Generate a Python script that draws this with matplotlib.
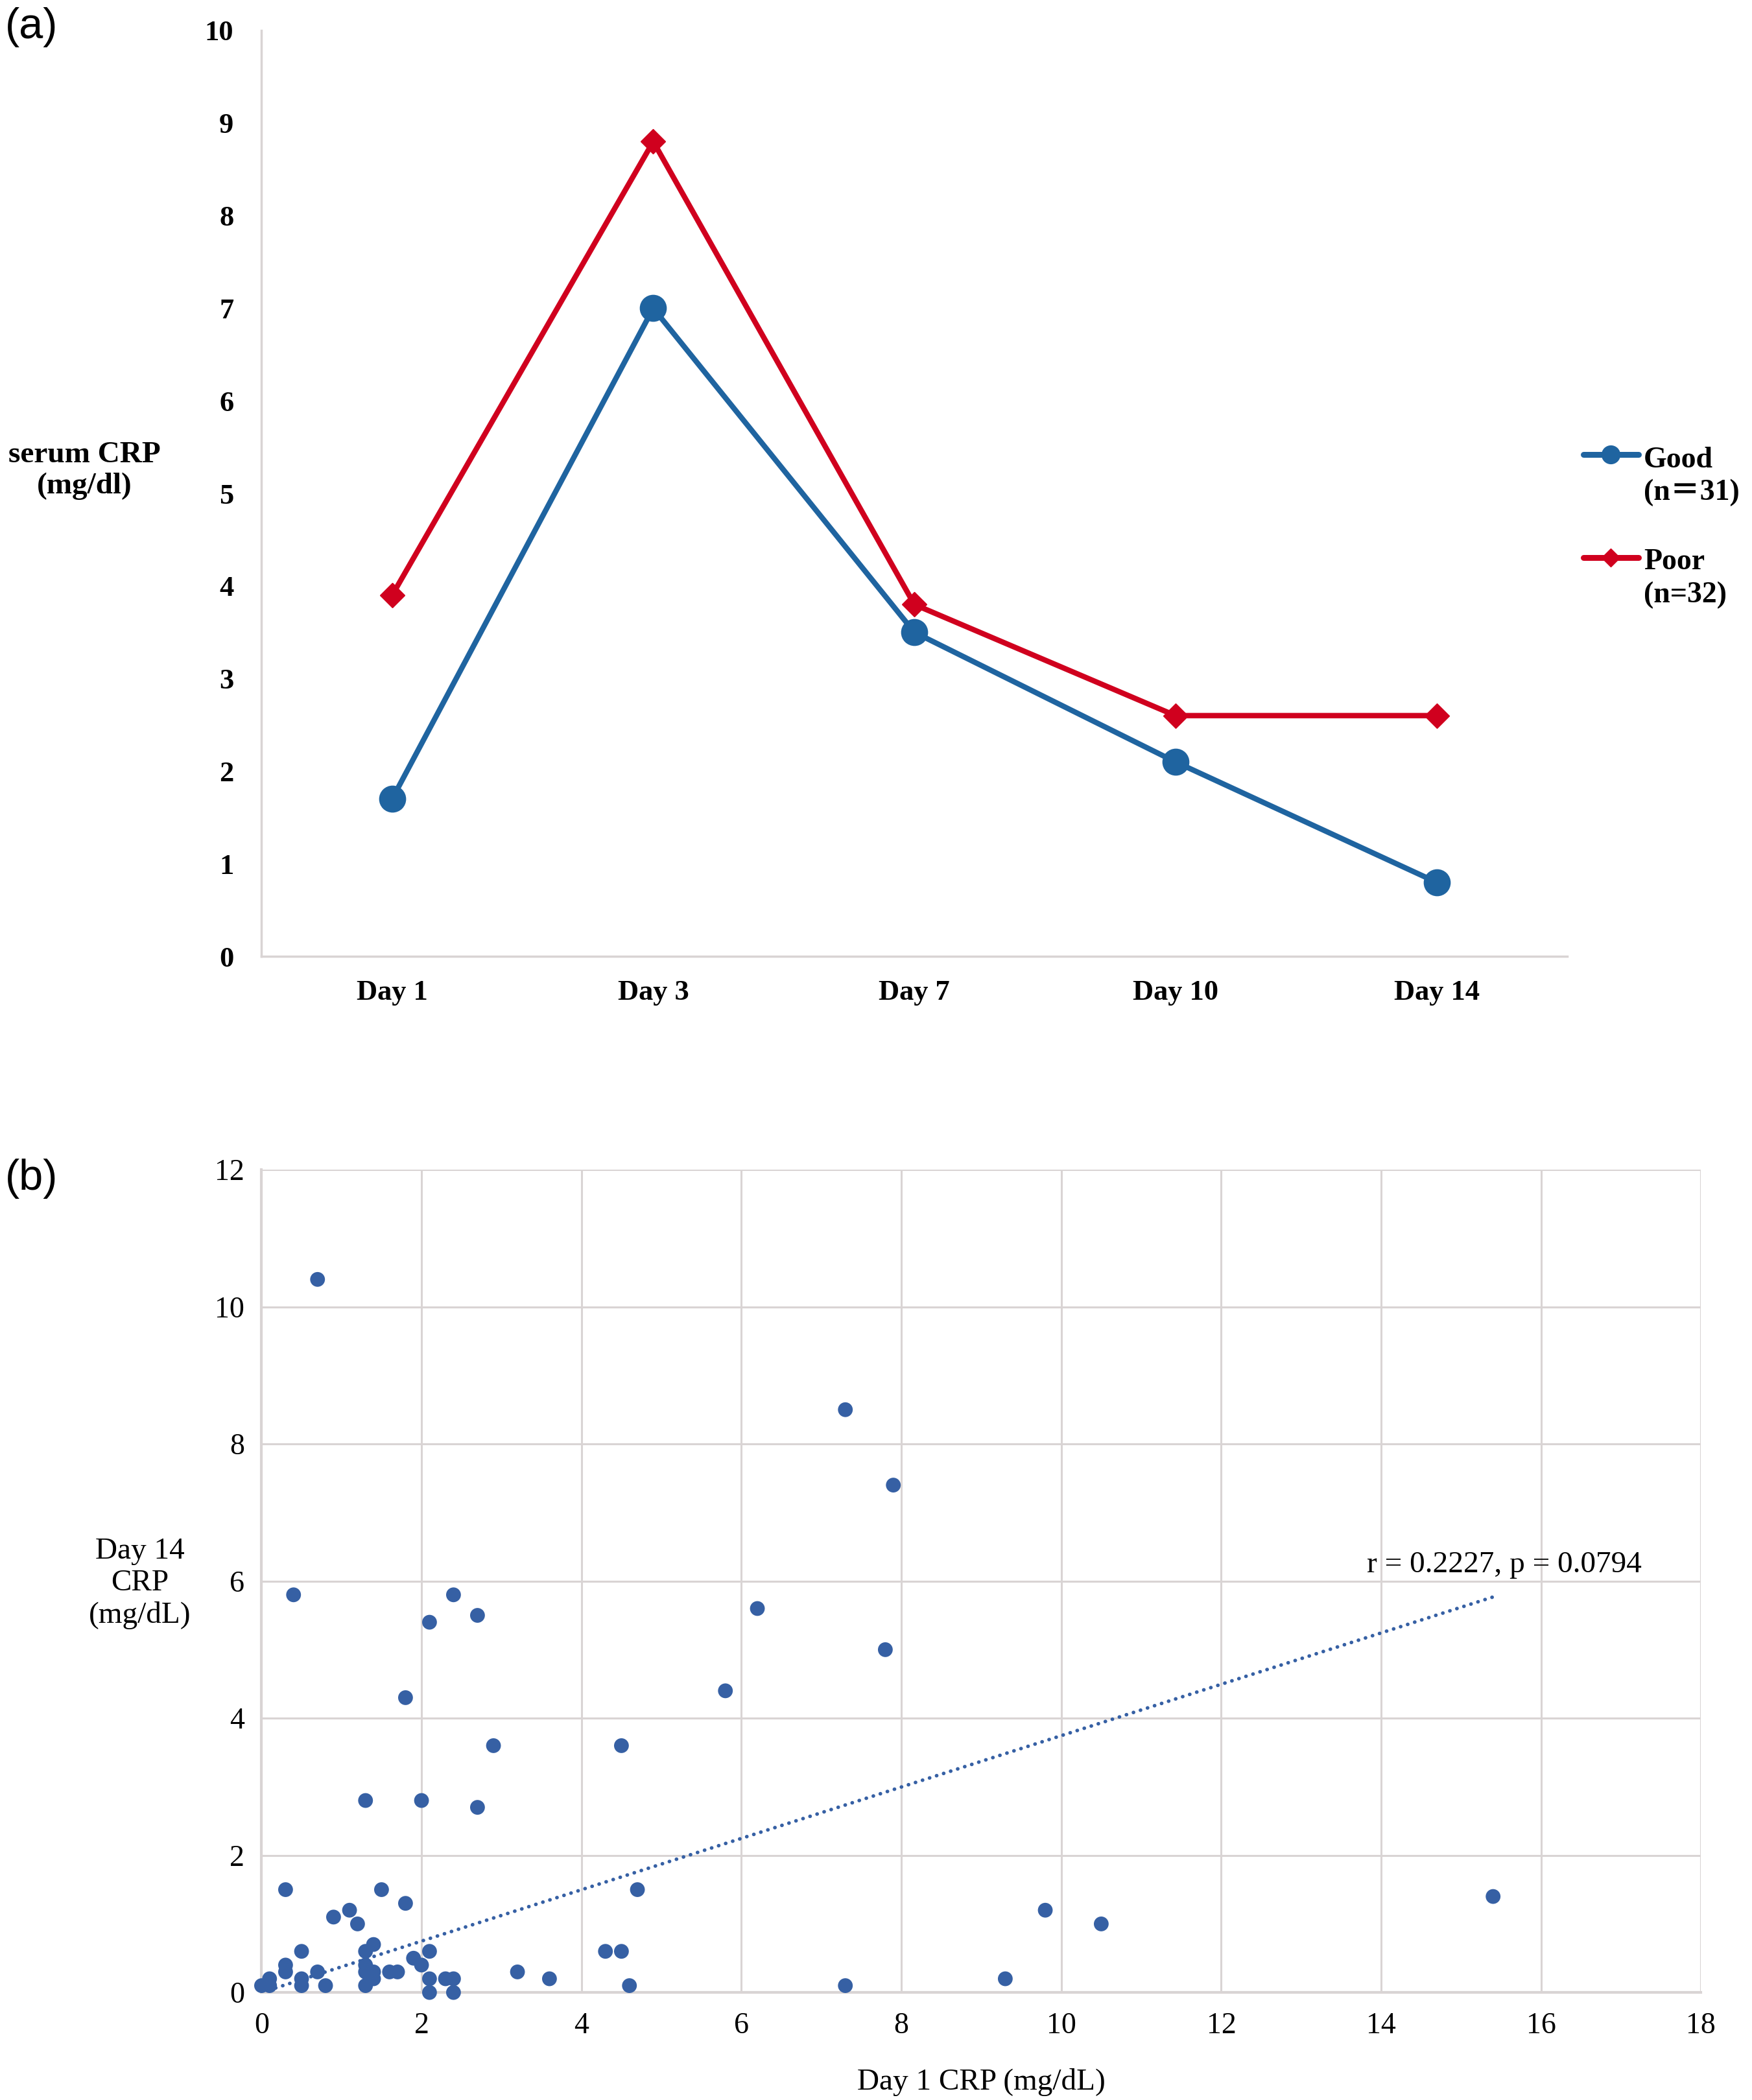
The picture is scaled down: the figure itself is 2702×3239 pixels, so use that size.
import numpy as np
import matplotlib
matplotlib.use("Agg")
from matplotlib import pyplot as plt

# panel (a): mean serum CRP by day
days = ["Day 1", "Day 3", "Day 7", "Day 10", "Day 14"]
good = [1.7, 7.0, 3.5, 2.1, 0.8]
poor = [3.9, 8.8, 3.8, 2.6, 2.6]
good_label = "Good\n(n\uff1d31)"
poor_label = "Poor\n(n=32)"

# panel (b): Day 1 vs Day 14 CRP per patient
day1_crp = [0.7, 7.3, 7.9, 0.4, 2.4, 2.7, 2.1, 6.2, 7.8, 5.8, 1.8, 2.9, 4.5, 1.3, 2.0, 2.7,
            0.3, 1.5, 4.7, 15.4, 9.8, 10.5, 1.8, 1.1, 0.9, 1.2,
            1.4, 1.3, 0.5, 2.1, 4.3, 4.5, 1.9, 2.0, 0.3, 1.3, 0.3, 0.7, 1.3, 1.4, 1.6, 1.7,
            3.2, 0.1, 0.5, 1.4, 2.1, 2.3, 2.4, 3.6, 9.3, 0.0, 0.1, 0.5, 0.8, 1.3, 4.6, 7.3,
            2.1, 2.4]
day14_crp = [10.4, 8.5, 7.4, 5.8, 5.8, 5.5, 5.4, 5.6, 5.0, 4.4, 4.3, 3.6, 3.6, 2.8, 2.8, 2.7,
             1.5, 1.5, 1.5, 1.4, 1.2, 1.0, 1.3, 1.2, 1.1, 1.0,
             0.7, 0.6, 0.6, 0.6, 0.6, 0.6, 0.5, 0.4, 0.4, 0.4, 0.3, 0.3, 0.3, 0.3, 0.3, 0.3,
             0.3, 0.2, 0.2, 0.2, 0.2, 0.2, 0.2, 0.2, 0.2, 0.1, 0.1, 0.1, 0.1, 0.1, 0.1, 0.1,
             0.0, 0.0]
stats_text = "r = 0.2227, p = 0.0794"

serif = ["Liberation Serif", "Noto Sans CJK JP"]
blue = "#1f64a0"
red = "#d0001e"
dot = "#3660a4"
axis_gray = "#d9d4d4"

fig = plt.figure(figsize=(27.02, 32.39), dpi=100)

# ---------------- (a) ----------------
ax1 = fig.add_axes([0.1493, 0.5446, 0.7452, 0.4409])
x = np.arange(len(days))
ax1.plot(x, poor, color=red, linewidth=6, marker="D", markersize=19, zorder=3)
ax1.plot(x, good, color=blue, linewidth=6, marker="o", markersize=29, zorder=4)
ax1.set_xlim(-0.5, len(days) - 0.5)
ax1.set_ylim(0, 10)
ax1.set_yticks(range(0, 11))
ax1.set_xticks(x)
ax1.set_xticklabels(days)
for s in ["top", "right"]:
    ax1.spines[s].set_visible(False)
for s in ["left", "bottom"]:
    ax1.spines[s].set_color(axis_gray)
    ax1.spines[s].set_linewidth(2.5)
ax1.tick_params(axis="y", length=0, pad=31)
ax1.tick_params(axis="x", length=0, pad=26)
for lab in ax1.get_xticklabels() + ax1.get_yticklabels():
    lab.set_fontfamily(serif)
    lab.set_fontweight("bold")
    lab.set_fontsize(32)

ax1.text(-0.1356, 0.5245, "serum CRP\n(mg/dl)", transform=ax1.transAxes, ha="center",
         va="center", family=serif, fontweight="bold", fontsize=34, multialignment="center")

# legend drawn beside the axes
for yh, yt, col, mk, ms, lab in [(0.542, 0.518, blue, "o", 20, good_label),
                                 (0.431, 0.408, red, "D", 14, poor_label)]:
    ax1.plot([1.0124, 1.0546], [yh, yh], transform=ax1.transAxes, color=col,
             linewidth=6.5, solid_capstyle="round", clip_on=False)
    ax1.plot([1.0335], [yh], transform=ax1.transAxes, color=col, marker=mk,
             markersize=ms, clip_on=False)
    ax1.text(1.0586, yt, lab, transform=ax1.transAxes, ha="left", va="center",
             family=serif, fontweight="bold", fontsize=33, linespacing=1.25)

fig.text(0.003, 0.987, "(a)", ha="left", va="center", family="Liberation Sans", fontsize=48)

# ---------------- (b) ----------------
ax2 = fig.add_axes([0.1493, 0.0512, 0.8216, 0.3918])
xs = np.array(day1_crp)
ys = np.array(day14_crp)
ax2.scatter(xs, ys, s=270, color=dot, edgecolors="none", zorder=3, clip_on=False)

# Excel-style linear trendline with intercept fixed at 0
slope = np.sum(xs * ys) / np.sum(xs * xs)
xt = np.array([xs.min(), xs.max()])
ax2.plot(xt, slope * xt, color=dot, linewidth=4, linestyle=(0, (0.05, 2.0)),
         dash_capstyle="round", zorder=2)
ax2.text(15.54, 6.24, stats_text, ha="center", va="center", family=serif, fontsize=34)

ax2.set_xlim(0, 18)
ax2.set_ylim(0, 12)
ax2.set_xticks(range(0, 19, 2))
ax2.set_yticks(range(0, 13, 2))
ax2.grid(True, color=axis_gray, linewidth=2.2)
ax2.set_axisbelow(True)
for s in ["top", "right"]:
    ax2.spines[s].set_visible(False)
for s in ["left", "bottom"]:
    ax2.spines[s].set_color(axis_gray)
    ax2.spines[s].set_linewidth(3)
ax2.tick_params(axis="y", length=0, pad=19)
ax2.tick_params(axis="x", length=0, pad=22)
for lab in ax2.get_xticklabels() + ax2.get_yticklabels():
    lab.set_fontfamily(serif)
    lab.set_fontsize(33)

ax2.text(0.5, -0.109, "Day 1 CRP (mg/dL)", transform=ax2.transAxes, ha="center",
         va="center", family=serif, fontsize=34)
ax2.text(-0.0847, 0.497, "Day 14\nCRP\n(mg/dL)", transform=ax2.transAxes, ha="center",
         va="center", family=serif, fontsize=34, multialignment="center")

fig.text(0.003, 0.4388, "(b)", ha="left", va="center", family="Liberation Sans", fontsize=48)

fig.savefig("out.png", dpi=100, facecolor="white")
